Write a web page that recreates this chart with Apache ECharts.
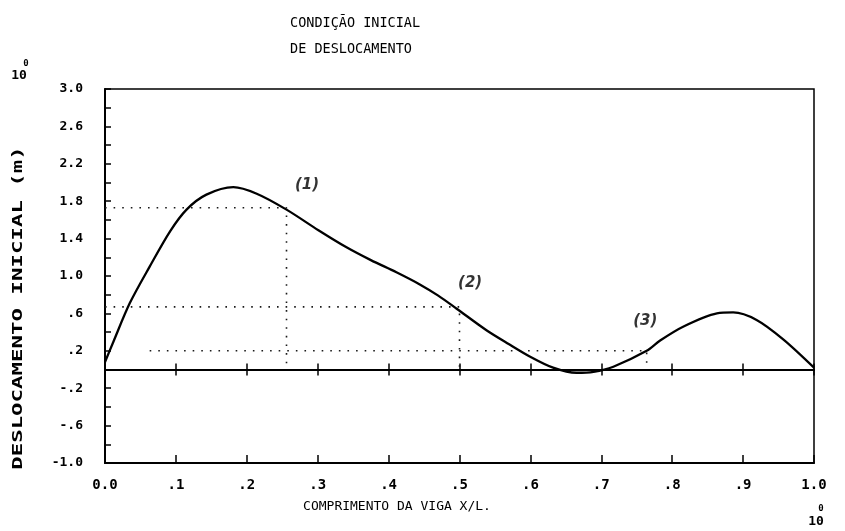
<!DOCTYPE html>
<html>
<head>
<meta charset="utf-8">
<script src="https://cdn.jsdelivr.net/npm/echarts@6/dist/echarts.min.js"></script>
<style>
  html, body { margin: 0; padding: 0; background: #fff; }
  #chart { width: 845px; height: 531px; }
</style>
</head>
<body>
<div id="chart"></div>
<script>
// Initial displacement of the beam along its length (x/L)
const beamPosition = [0.000, 0.012, 0.035, 0.063, 0.092, 0.115, 0.143, 0.181, 0.214, 0.256,
                      0.301, 0.340, 0.375, 0.411, 0.444, 0.470, 0.496, 0.538, 0.570, 0.599,
                      0.632, 0.665, 0.689, 0.717, 0.764, 0.783, 0.816, 0.863, 0.886, 0.919,
                      0.957, 1.000];
const displacement = [0.08, 0.30, 0.71, 1.10, 1.48, 1.71, 1.87, 1.95, 1.88, 1.71,
                      1.49, 1.31, 1.17, 1.04, 0.91, 0.79, 0.65, 0.42, 0.27, 0.14,
                      0.02, -0.035, -0.025, 0.03, 0.20, 0.31, 0.46, 0.60, 0.61, 0.53,
                      0.32, 0.02];

// Dotted guide lines to the three reference points
const guide1X = [0, 0.256, 0.256];
const guide1Y = [1.73, 1.73, 0];
const guide2X = [0, 0.5, 0.5];
const guide2Y = [0.67, 0.67, 0];
const guide3X = [0.063, 0.764, 0.764];
const guide3Y = [0.20, 0.20, 0];

// Point tags
const tagText = ['(1)', '(2)', '(3)'];
const tagX = [0.285, 0.515, 0.762];
const tagY = [1.97, 0.92, 0.52];

// Tick labels
const xTicks = [0, 0.1, 0.2, 0.3, 0.4, 0.5, 0.6, 0.7, 0.8, 0.9, 1.0];
const xTickLabels = ['0.0', '.1', '.2', '.3', '.4', '.5', '.6', '.7', '.8', '.9', '1.0'];
const yTicks = [-1.0, -0.6, -0.2, 0.2, 0.6, 1.0, 1.4, 1.8, 2.2, 2.6, 3.0];
const yTickLabels = ['-1.0', '-.6', '-.2', '.2', '.6', '1.0', '1.4', '1.8', '2.2', '2.6', '3.0'];

const MONO = '"DejaVu Sans Mono", "Liberation Mono", monospace';

function lookup(ticks, labels) {
  return function (v) {
    for (let i = 0; i < ticks.length; i++) {
      if (Math.abs(ticks[i] - v) < 1e-6) return labels[i];
    }
    return '';
  };
}

function zipPairs(xs, ys) {
  return xs.map((x, i) => [x, ys[i]]);
}

const guideStyle = { color: '#1a1a1a', width: 1.6, type: [1.6, 7] };

function guideSeries(xs, ys) {
  return {
    type: 'line',
    data: zipPairs(xs, ys),
    symbol: 'none',
    smooth: false,
    lineStyle: guideStyle,
    silent: true,
    z: 2
  };
}

const chart = echarts.init(document.getElementById('chart'), null, { renderer: 'canvas' });

const zeroAxisBase = {
  type: 'value', min: 0, max: 1, interval: 0.1, position: 'bottom',
  axisLine: { onZero: true, onZeroAxisIndex: 0, lineStyle: { color: '#000', width: 2 } },
  axisLabel: { show: false },
  splitLine: { show: false }
};

chart.setOption({
  animation: false,
  backgroundColor: '#fff',
  title: {
    text: 'CONDIÇÃO INICIAL\nDE DESLOCAMENTO',
    left: 285,
    top: 5,
    textStyle: { fontFamily: MONO, fontSize: 13.5, fontWeight: 'normal', color: '#000', lineHeight: 26 }
  },
  grid: {
    left: 105, right: 31, top: 89, bottom: 68,
    show: true, borderColor: '#000', borderWidth: 1.5, backgroundColor: 'transparent'
  },
  xAxis: [
    {
      type: 'value', min: 0, max: 1, interval: 0.1, position: 'bottom',
      axisLine: { onZero: false, lineStyle: { color: '#000', width: 2 } },
      axisTick: { inside: true, length: 8, lineStyle: { color: '#000', width: 1.5 } },
      axisLabel: {
        margin: 15, color: '#000', fontFamily: MONO, fontSize: 14, fontWeight: 'bold',
        formatter: lookup(xTicks, xTickLabels)
      },
      splitLine: { show: false }
    },
    Object.assign({}, zeroAxisBase, {
      axisTick: { inside: true, length: 6, lineStyle: { color: '#000', width: 1.5 } }
    }),
    Object.assign({}, zeroAxisBase, {
      axisTick: { inside: false, length: 6, lineStyle: { color: '#000', width: 1.5 } }
    })
  ],
  yAxis: {
    type: 'value', min: -1, max: 3, interval: 0.4,
    axisLine: { show: true, onZero: false, lineStyle: { color: '#000', width: 2 } },
    axisTick: { show: true, inside: true, length: 6, lineStyle: { color: '#000', width: 1.5 } },
    minorTick: { show: true, splitNumber: 2, length: 6, lineStyle: { color: '#000', width: 1.5 } },
    axisLabel: {
      margin: 22, color: '#000', fontFamily: MONO, fontSize: 13, fontWeight: 'bold',
      formatter: lookup(yTicks, yTickLabels)
    },
    splitLine: { show: false }
  },
  series: [
    guideSeries(guide1X, guide1Y),
    guideSeries(guide2X, guide2Y),
    guideSeries(guide3X, guide3Y),
    {
      type: 'line',
      data: zipPairs(beamPosition, displacement),
      symbol: 'none',
      smooth: 0.3,
      lineStyle: { color: '#000', width: 2.3 },
      z: 3
    },
    {
      type: 'scatter',
      data: zipPairs(tagX, tagY),
      symbolSize: 1,
      itemStyle: { color: 'rgba(0,0,0,0)' },
      silent: true,
      label: {
        show: true,
        position: 'inside',
        color: '#000',
        fontFamily: '"DejaVu Sans", sans-serif',
        fontStyle: 'italic',
        fontWeight: 'bold',
        fontSize: 15,
        formatter: (p) => tagText[p.dataIndex]
      },
      z: 4
    }
  ],
  graphic: [
    {
      type: 'text', x: 18, y: 308, rotation: Math.PI / 2, scaleX: 1.6,
      style: {
        text: 'DESLOCAMENTO INICIAL (m)', fill: '#000', fontFamily: MONO,
        fontSize: 14, fontWeight: 'bold', align: 'center', verticalAlign: 'middle'
      }
    },
    {
      type: 'text', x: 397, y: 507,
      style: {
        text: 'COMPRIMENTO DA VIGA X/L.', fill: '#000', fontFamily: MONO,
        fontSize: 13, align: 'center', verticalAlign: 'middle'
      }
    },
    {
      type: 'text', x: 19, y: 76,
      style: { text: '10', fill: '#000', fontFamily: MONO, fontSize: 13, fontWeight: 'bold', align: 'center', verticalAlign: 'middle' }
    },
    {
      type: 'text', x: 26, y: 64,
      style: { text: '0', fill: '#000', fontFamily: MONO, fontSize: 9, fontWeight: 'bold', align: 'center', verticalAlign: 'middle' }
    },
    {
      type: 'text', x: 816, y: 522,
      style: { text: '10', fill: '#000', fontFamily: MONO, fontSize: 13, fontWeight: 'bold', align: 'center', verticalAlign: 'middle' }
    },
    {
      type: 'text', x: 821, y: 509,
      style: { text: '0', fill: '#000', fontFamily: MONO, fontSize: 9, fontWeight: 'bold', align: 'center', verticalAlign: 'middle' }
    }
  ]
});
</script>
</body>
</html>
